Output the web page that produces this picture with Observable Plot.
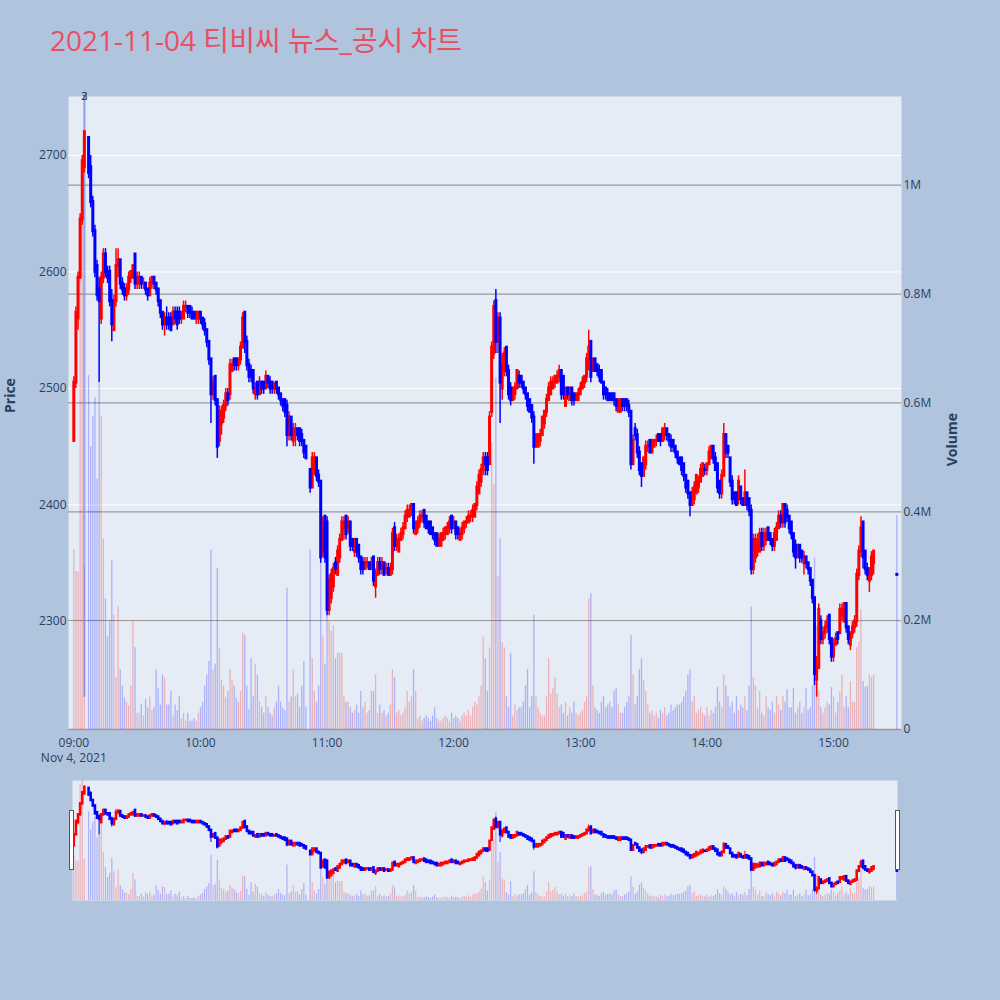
<!DOCTYPE html>
<html><head><meta charset="utf-8">
<script src="https://cdn.jsdelivr.net/npm/d3@7"></script>
<script src="https://cdn.jsdelivr.net/npm/@observablehq/plot@0.6"></script>
<style>
html,body{margin:0;padding:0;background:#B0C4DE;}
#wrap{position:relative;width:1000px;height:1000px;overflow:hidden;}
#wrap svg{position:absolute;left:0;top:0;}
#title{position:absolute;left:50px;top:26px;font-size:28px;font-family:"Open Sans","Noto Sans CJK KR",sans-serif;color:#EA4E63;white-space:nowrap;line-height:28px;z-index:5}
.handle{position:absolute;top:810px;width:2.5px;height:58px;background:#fff;border:1px solid #555;z-index:5}
</style></head><body>
<div id="wrap"><div id="title">2021-11-04 티비씨 뉴스_공시 차트</div>
<div class="handle" style="left:69px"></div><div class="handle" style="left:895px"></div></div>
<script>
// ---- data: one-minute candles from 09:00 (index 0) to 15:19 (index 379) ----
const sessionDate = [2021, 10, 4];
const open = [
2455,2505,2560,2595,2645,2690,null,2715,2690,2660,
2635,2605,2585,2560,2595,2615,2600,2600,2575,2550,
2575,2605,2610,2590,2585,2580,2585,2595,2595,2615,
2590,2590,2595,2590,2590,2585,2580,2590,2595,2590,
2585,2575,2565,2555,2560,2560,2560,2555,2565,2565,
2565,2560,2560,2570,2570,2570,2565,2565,2560,2560,
2565,2560,2555,2550,2540,2525,2495,2510,2490,2455,
2470,2475,2485,2495,2495,2515,2525,2525,2520,2525,
2535,2565,2540,2520,2515,2515,2495,2505,2495,2505,
2505,2500,2510,2505,2505,2500,2505,2500,2495,2490,
2490,2485,2460,2475,2455,2460,2465,2465,2460,2455,
2450,null,2430,2415,2430,2440,2425,2420,2360,2390,
2385,2310,2320,2330,2350,2340,2355,2370,2380,2390,
2380,2385,2370,2360,2370,2365,2355,2350,2345,2350,
2350,2345,2355,2330,2340,2350,2345,2350,2345,2345,
2340,2345,2380,2365,2360,2370,2375,2380,2390,2390,
2395,2400,2375,2380,2385,2390,2395,2390,2385,2385,
2380,2375,2375,2365,2365,2370,2375,2375,2380,2390,
2380,2385,2380,2370,2375,2380,2385,2385,2390,2390,
2390,2400,2410,2420,2430,2440,2440,2435,2480,2530,
2575,2540,2560,2500,2515,2535,2515,2500,2490,2495,
2500,2510,2510,2505,2500,2495,2490,2485,2475,2450,
2450,2455,2460,2470,2480,2490,2495,2500,2505,2505,
2510,2515,2510,2485,2500,2490,2500,2495,2490,2490,
2495,2500,2505,2510,2525,2540,2515,2525,2520,2515,
2515,2505,2500,2495,2495,2495,2495,2490,2480,2480,
2490,2490,2490,2485,2480,2435,2465,2460,2445,2435,
2425,2435,2450,2455,2445,2450,2455,2460,2460,2455,
2460,2465,2460,2455,2455,2450,2445,2440,2440,2435,
2425,2420,2410,2400,2405,2410,2415,2420,2425,2430,
2430,2435,2440,2450,2440,2435,2420,2410,2425,2460,
2450,2440,2420,2410,2410,2405,2415,2405,2400,2410,
2405,2395,2345,2355,2360,2360,2375,2365,2370,2380,
2375,2370,2365,2370,2380,2390,2385,2400,2395,2390,
2385,2375,2365,2355,2365,2360,2350,2355,2350,2345,
2335,2320,2250,2260,2300,2285,2290,2295,2305,2285,
2270,2280,2290,2290,2305,2300,2315,2295,2280,2290,
2295,2300,2340,2360,2385,2360,2345,2335,2340,2350];
const high = [
2510,2570,2600,2650,2700,2720,null,2715,2700,2665,
2640,2610,2595,2600,2620,2620,2605,2605,2585,2580,
2620,2620,2610,2595,2590,2590,2600,2600,2605,2615,
2600,2600,2595,2595,2590,2585,2595,2595,2595,2590,
2585,2575,2565,2565,2570,2565,2565,2570,2570,2570,
2570,2565,2575,2575,2570,2570,2570,2565,2565,2565,
2565,2560,2560,2550,2540,2525,2510,2510,2490,2485,
2485,2490,2500,2500,2525,2525,2525,2525,2525,2540,
2565,2565,2545,2525,2520,2515,2505,2505,2510,2505,
2505,2515,2510,2510,2505,2505,2505,2500,2495,2490,
2490,2490,2480,2475,2470,2470,2465,2465,2465,2455,
2450,null,2430,2445,2445,2440,2430,2420,2390,2390,
2390,2340,2345,2350,2355,2365,2375,2390,2390,2390,
2390,2385,2370,2370,2370,2365,2355,2355,2355,2355,
2350,2355,2355,2345,2355,2355,2355,2350,2350,2350,
2350,2380,2385,2375,2375,2380,2385,2395,2400,2400,
2400,2400,2385,2390,2395,2395,2395,2390,2385,2385,
2380,2375,2375,2375,2375,2380,2380,2385,2390,2390,
2390,2385,2380,2380,2385,2385,2390,2395,2395,2400,
2400,2420,2430,2435,2445,2445,2445,2480,2540,2575,
2585,2565,2565,2530,2535,2535,2520,2505,2500,2505,
2515,2515,2510,2505,2500,2495,2490,2485,2480,2460,
2460,2465,2475,2480,2495,2505,2510,2510,2510,2515,
2520,2515,2510,2500,2500,2500,2500,2495,2495,2500,
2505,2510,2510,2530,2550,2540,2525,2525,2520,2520,
2515,2505,2500,2500,2495,2495,2495,2490,2490,2490,
2490,2490,2490,2490,2480,2460,2470,2465,2450,2435,
2440,2455,2455,2455,2455,2455,2460,2460,2460,2465,
2470,2465,2460,2460,2455,2450,2445,2440,2440,2435,
2425,2420,2410,2415,2420,2425,2425,2435,2435,2435,
2435,2450,2450,2450,2445,2435,2420,2430,2470,2460,
2450,2440,2425,2410,2410,2425,2415,2405,2430,2410,
2405,2400,2375,2375,2375,2380,2380,2380,2380,2380,
2375,2370,2380,2385,2395,2395,2400,2400,2400,2390,
2385,2375,2370,2365,2365,2360,2360,2355,2350,2345,
2335,2320,2270,2315,2305,2295,2300,2305,2305,2285,
2285,2290,2290,2315,2315,2315,2315,2295,2290,2300,
2305,2345,2365,2390,2385,2360,2350,2345,2360,2360];
const low = [
2455,2500,2550,2595,2640,2685,null,2680,2655,2630,
2595,2575,2505,2555,2590,2595,2590,2570,2540,2550,
2570,2595,2585,2580,2575,2575,2580,2590,2595,2585,
2585,2585,2585,2585,2580,2575,2580,2585,2585,2580,
2570,2560,2550,2545,2550,2550,2550,2555,2555,2550,
2555,2555,2560,2565,2560,2560,2560,2560,2555,2555,
2555,2550,2545,2535,2520,2470,2490,2485,2440,2450,
2460,2470,2480,2485,2490,2515,2515,2515,2515,2520,
2535,2530,2515,2505,2505,2495,2490,2490,2495,2495,
2495,2500,2500,2495,2495,2495,2495,2490,2485,2480,
2475,2450,2455,2455,2450,2450,2455,2450,2450,2440,
2440,null,2410,2415,2425,2420,2415,2350,2355,2350,
2305,2305,2315,2325,2340,2340,2350,2370,2370,2370,
2375,2360,2360,2355,2355,2350,2340,2340,2345,2345,
2345,2345,2330,2320,2340,2340,2340,2340,2340,2340,
2340,2340,2360,2360,2360,2370,2370,2380,2385,2390,
2390,2375,2375,2375,2380,2385,2380,2380,2375,2375,
2370,2365,2365,2365,2365,2370,2370,2375,2375,2375,
2380,2370,2370,2370,2370,2375,2380,2385,2385,2385,
2390,2395,2410,2415,2425,2425,2425,2435,2475,2525,
2530,2530,2470,2490,2510,2510,2490,2485,2490,2490,
2500,2500,2500,2495,2490,2480,2480,2470,2435,2450,
2450,2450,2460,2465,2475,2490,2495,2500,2500,2505,
2505,2490,2490,2485,2490,2490,2485,2485,2490,2490,
2495,2500,2500,2505,2515,2505,2515,2515,2510,2505,
2505,2490,2490,2490,2490,2490,2485,2480,2480,2480,
2480,2480,2480,2475,2430,2435,2455,2440,2425,2415,
2425,2430,2445,2445,2445,2450,2450,2455,2450,2455,
2455,2455,2450,2445,2445,2440,2435,2435,2425,2420,
2410,2405,2390,2400,2400,2410,2410,2420,2425,2425,
2425,2435,2440,2435,2430,2410,2405,2405,2425,2440,
2440,2415,2400,2400,2400,2400,2400,2400,2400,2395,
2390,2340,2340,2350,2355,2360,2360,2360,2365,2370,
2365,2360,2360,2370,2380,2380,2380,2380,2385,2375,
2370,2355,2345,2355,2350,2350,2340,2345,2340,2330,
2315,2245,2235,2260,2280,2280,2285,2290,2280,2265,
2265,2280,2280,2290,2300,2300,2290,2280,2275,2285,
2290,2295,2335,2355,2345,2340,2335,2325,2335,2340];
const close = [
2505,2565,2595,2645,2695,2720,null,2685,2660,2635,
2600,2580,2575,2595,2615,2600,2595,2575,2555,2575,
2605,2610,2590,2585,2580,2585,2595,2600,2605,2590,
2595,2595,2590,2590,2585,2580,2590,2595,2590,2585,
2575,2565,2555,2560,2555,2555,2550,2565,2560,2555,
2560,2565,2570,2570,2565,2565,2560,2560,2565,2565,
2560,2555,2550,2540,2525,2495,2505,2490,2450,2480,
2480,2485,2495,2490,2520,2520,2520,2520,2525,2535,
2560,2540,2520,2510,2510,2500,2500,2495,2505,2500,
2500,2510,2505,2500,2500,2500,2500,2495,2490,2485,
2480,2460,2475,2460,2465,2465,2460,2455,2455,2445,
2440,null,2415,2440,2440,2425,2420,2355,2385,2355,
2310,2335,2340,2345,2345,2360,2370,2385,2385,2375,
2385,2365,2365,2370,2360,2355,2345,2345,2350,2350,
2345,2350,2335,2340,2350,2345,2350,2340,2345,2340,
2345,2375,2365,2370,2370,2375,2380,2390,2395,2395,
2400,2380,2385,2385,2390,2390,2385,2380,2380,2375,
2375,2370,2365,2370,2375,2375,2380,2380,2385,2380,
2385,2375,2375,2375,2380,2385,2385,2390,2390,2395,
2400,2415,2425,2430,2440,2435,2430,2475,2535,2570,
2540,2560,2505,2520,2530,2515,2495,2490,2500,2500,
2515,2505,2505,2500,2495,2485,2480,2475,2450,2460,
2460,2460,2475,2480,2490,2500,2505,2505,2510,2510,
2515,2495,2495,2500,2495,2500,2490,2490,2495,2495,
2500,2505,2510,2525,2535,2510,2525,2515,2515,2510,
2505,2495,2495,2490,2490,2490,2490,2485,2490,2490,
2485,2485,2485,2480,2435,2455,2460,2445,2430,2425,
2440,2450,2450,2445,2455,2455,2455,2455,2455,2465,
2465,2460,2455,2450,2450,2445,2440,2435,2430,2425,
2415,2410,2400,2410,2415,2425,2420,2430,2435,2430,
2435,2445,2450,2440,2430,2415,2410,2425,2460,2445,
2445,2420,2405,2405,2400,2420,2405,2400,2410,2400,
2395,2345,2370,2370,2365,2375,2365,2375,2375,2370,
2370,2365,2375,2380,2390,2385,2400,2385,2390,2380,
2375,2360,2355,2365,2355,2355,2355,2350,2345,2335,
2320,2255,2260,2310,2285,2290,2295,2300,2285,2270,
2280,2285,2285,2310,2310,2315,2295,2285,2290,2295,
2300,2340,2360,2380,2355,2345,2340,2345,2355,2360];
const volumeK = [
330,290,290,850,1050,300,null,650,520,575,
610,460,635,575,350,240,170,200,310,210,
95,225,110,80,58,50,43,80,200,150,
30,30,47,25,55,40,60,35,40,110,
75,45,100,95,45,45,70,25,45,35,
60,20,30,15,30,15,15,20,15,30,
40,50,80,100,125,330,110,120,296,150,
90,80,58,70,110,90,80,58,50,70,
177,173,80,36,130,60,120,100,50,40,
30,60,40,30,25,40,50,80,50,40,
35,260,50,60,110,60,65,40,80,125,
40,null,330,130,70,50,80,350,170,120,
250,200,180,190,130,140,140,140,60,50,
50,40,30,35,45,30,70,40,50,30,
35,70,70,100,30,45,30,35,25,30,
45,110,95,30,35,25,30,40,70,50,
60,110,70,20,25,15,20,25,20,15,
25,40,20,15,15,20,25,20,15,30,
20,25,20,15,25,30,25,35,25,40,
50,45,60,80,170,130,70,150,527,450,
646,280,350,160,150,60,40,140,25,45,
35,40,40,50,80,110,40,60,210,60,
40,30,25,25,60,130,65,75,95,65,
40,45,30,50,25,40,30,50,30,25,
30,35,50,60,240,250,80,40,35,30,
50,60,40,45,50,40,70,75,45,30,
30,40,50,60,173,100,45,60,110,130,
90,70,45,30,35,25,30,20,35,30,
40,25,30,45,35,40,45,45,50,60,
70,100,110,50,60,30,35,40,30,25,
40,25,35,30,40,77,50,40,100,80,
60,40,50,30,60,35,45,40,60,35,
80,225,95,80,40,70,30,25,60,40,
35,50,30,60,45,35,60,50,73,40,
40,75,30,40,50,30,40,75,35,40,
80,315,190,70,40,30,40,50,45,77,
60,30,50,70,100,40,60,40,88,50,
50,150,160,220,88,77,80,100,95,100];
// closing single-price auction
const auctionTime = "15:30";
const auctionPrice = 2340;
const auctionVolumeK = 393;
// news / disclosure markers
const newsTimes = ["09:05", "09:05"];
const newsLabels = ["2", "3"];
// axes
const priceTicks = [2300, 2400, 2500, 2600, 2700];
const volumeTicks = [0, 200000, 400000, 600000, 800000, 1000000];
const volumeTickLabels = ["0", "0.2M", "0.4M", "0.6M", "0.8M", "1M"];
const hourTicks = ["09:00","10:00","11:00","12:00","13:00","14:00","15:00"];
const dateLabel = "Nov 4, 2021";

// ---- build table ----
function at(hm) {
  const [h, m, s] = hm.split(":").map(Number);
  return new Date(Date.UTC(sessionDate[0], sessionDate[1], sessionDate[2], h, m, s || 0));
}
const t0 = at("09:00").getTime();
const candles = [];
let prev = null;
open.forEach((o, i) => {
  if (o == null) return;
  const c = close[i];
  const up = c > o || (c === o && (prev == null || c >= prev));
  candles.push({t: new Date(t0 + i * 60000), o, h: high[i], l: low[i], c, v: volumeK[i] * 1000, up});
  prev = c;
});
candles.push({t: at(auctionTime), o: auctionPrice, h: auctionPrice, l: auctionPrice, c: auctionPrice,
  v: auctionVolumeK * 1000, up: auctionPrice > prev});
const ups = candles.filter(d => d.up), downs = candles.filter(d => !d.up);
const news = newsTimes.map((t, i) => ({t: at(t), label: newsLabels[i]}));
const dayLow = d3.min(candles, d => d.l);

// ---- layout ----
const W = 1000, H = 1000;
const xDomain = [at("08:57:29"), at("15:32:13")];
const priceDomain = [2207.3, 2750.6];
const volDomain = [0, 1163000];
const sliderVolDomain = [0, 880000];
const mainM = {marginLeft: 68, marginRight: 99, marginTop: 96, marginBottom: 271};
const sliderM = {marginLeft: 68, marginRight: 99, marginTop: 780, marginBottom: 100};
const font = '"Open Sans","Noto Sans CJK KR",sans-serif';
const style = {background: "transparent", fontFamily: font, fontSize: "12px", color: "#2a3f5f", overflow: "visible"};
const RED = "#ff0000", BLUE = "#0000ff";
const RED_V = "rgba(255,0,0,0.25)", BLUE_V = "rgba(0,0,255,0.25)";
const wrap = document.getElementById("wrap");

// layer A: price background, grid, axes
wrap.appendChild(Plot.plot({
  width: W, height: H, ...mainM, style,
  x: {type: "utc", domain: xDomain, ticks: hourTicks.map(at), tickFormat: d3.utcFormat("%H:%M"), tickSize: 0, tickPadding: 9, label: null},
  y: {domain: priceDomain, ticks: priceTicks, tickFormat: d => String(d), tickSize: 0, tickPadding: 2, label: null},
  marks: [
    Plot.frame({fill: "#E5ECF6", stroke: "none"}),
    Plot.ruleY(priceTicks, {stroke: "#ffffff", strokeWidth: 1}),
    Plot.text([dateLabel], {x: [at("09:00")], text: d => d, frameAnchor: "bottom", lineAnchor: "middle", dy: 29, fontSize: 12}),
    Plot.text(["Price"], {text: d => d, frameAnchor: "left", dx: -58, rotate: -90, fontWeight: "bold", fontSize: 14})
  ]
}));

// layer B: volume
wrap.appendChild(Plot.plot({
  width: W, height: H, ...mainM, style,
  x: {type: "utc", domain: xDomain, axis: null},
  y: {domain: volDomain, axis: "right", ticks: volumeTicks, tickFormat: d => volumeTickLabels[volumeTicks.indexOf(d)], tickSize: 0, tickPadding: 2, label: null},
  marks: [
    Plot.ruleY(volumeTicks, {stroke: "#9a9a9a", strokeWidth: 1.3}),
    Plot.ruleX(ups, {x: "t", y1: () => 0, y2: "v", stroke: RED_V, strokeWidth: 1.3}),
    Plot.ruleX(downs, {x: "t", y1: () => 0, y2: "v", stroke: BLUE_V, strokeWidth: 1.3}),
    Plot.text(["Volume"], {text: d => d, frameAnchor: "right", dx: 51, rotate: -90, fontWeight: "bold", fontSize: 14})
  ]
}));

// layer C: candles and news markers
wrap.appendChild(Plot.plot({
  width: W, height: H, ...mainM, style,
  x: {type: "utc", domain: xDomain, axis: null},
  y: {domain: priceDomain, axis: null},
  marks: [
    Plot.ruleX(news, {x: "t", y1: () => dayLow, y2: () => priceDomain[1], stroke: "rgba(120,140,240,0.5)", strokeWidth: 2}),
    Plot.ruleX(ups, {x: "t", y1: "l", y2: "h", stroke: RED, strokeWidth: 1.5}),
    Plot.ruleX(downs, {x: "t", y1: "l", y2: "h", stroke: BLUE, strokeWidth: 1.5}),
    Plot.ruleX(ups, {x: "t", y1: "o", y2: "c", stroke: RED, strokeWidth: 3, strokeLinecap: "square"}),
    Plot.ruleX(downs, {x: "t", y1: "o", y2: "c", stroke: BLUE, strokeWidth: 3, strokeLinecap: "square"}),
    Plot.text(news, {x: "t", text: "label", frameAnchor: "top", lineAnchor: "middle", fontSize: 11, fill: "#2a3f5f"})
  ]
}));

// layer D: range slider background + volume
wrap.appendChild(Plot.plot({
  width: W, height: H, ...sliderM, style,
  x: {type: "utc", domain: xDomain, axis: null},
  y: {domain: sliderVolDomain, clamp: true, axis: null},
  marks: [
    Plot.frame({fill: "#E5ECF6", stroke: "none", insetLeft: 4, insetRight: 4}),
    Plot.ruleX(ups, {x: "t", y1: () => 0, y2: "v", stroke: RED_V, strokeWidth: 1.2}),
    Plot.ruleX(downs, {x: "t", y1: () => 0, y2: "v", stroke: BLUE_V, strokeWidth: 1.2})
  ]
}));

// layer E: range slider candles
wrap.appendChild(Plot.plot({
  width: W, height: H, ...sliderM, style,
  x: {type: "utc", domain: xDomain, axis: null},
  y: {domain: priceDomain, axis: null},
  marks: [
    Plot.ruleX(ups, {x: "t", y1: "l", y2: "h", stroke: RED, strokeWidth: 1}),
    Plot.ruleX(downs, {x: "t", y1: "l", y2: "h", stroke: BLUE, strokeWidth: 1}),
    Plot.ruleX(ups, {x: "t", y1: "o", y2: "c", stroke: RED, strokeWidth: 2.6, strokeLinecap: "square"}),
    Plot.ruleX(downs, {x: "t", y1: "o", y2: "c", stroke: BLUE, strokeWidth: 2.6, strokeLinecap: "square"})
  ]
}));
</script>
</body></html>
